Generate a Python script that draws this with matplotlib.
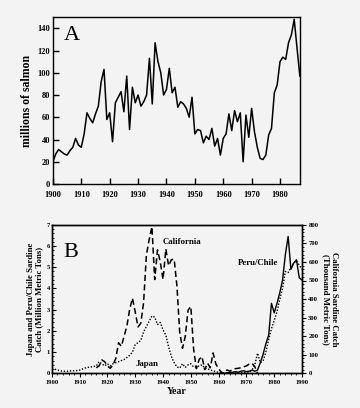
import numpy as np
import matplotlib
matplotlib.use("Agg")
import matplotlib.pyplot as plt
from matplotlib.ticker import MultipleLocator

# Panel A: salmon catch (millions of fish), 1900-1987
salmon_years = list(range(1900, 1988))
salmon = [20, 27, 31, 29, 27, 26, 30, 33, 41, 35,
          33, 45, 64, 59, 55, 63, 70, 92, 103, 58,
          64, 38, 73, 78, 83, 65, 97, 49, 87, 73,
          80, 70, 74, 80, 113, 72, 127, 110, 100, 80,
          85, 104, 82, 87, 69, 74, 72, 68, 60, 78,
          45, 49, 48, 37, 43, 40, 50, 34, 41, 26,
          41, 45, 63, 48, 66, 56, 64, 20, 62, 42,
          68, 47, 33, 23, 22, 26, 44, 50, 82, 89,
          110, 114, 112, 127, 134, 148, 122, 97]

# Panel B: sardine catches
japan_years = list(range(1900, 1991))
japan = [0.20, 0.20, 0.15, 0.12, 0.10, 0.10, 0.10, 0.12, 0.12, 0.13,
         0.15, 0.20, 0.25, 0.28, 0.30, 0.32, 0.35, 0.55, 0.45, 0.35,
         0.45, 0.35, 0.45, 0.50, 0.55, 0.60, 0.65, 0.75, 0.85, 1.00,
         1.35, 1.45, 1.55, 1.95, 2.20, 2.45, 2.70, 2.65, 2.30, 2.40,
         2.05, 1.80, 1.25, 0.80, 0.50, 0.30, 0.25, 0.45, 0.28, 0.40,
         0.45, 0.30, 0.30, 0.35, 0.40, 0.25, 0.22, 0.15, 0.12, 0.08,
         0.04, 0.02, 0.02, 0.02, 0.02, 0.02, 0.02, 0.03, 0.03, 0.04,
         0.05, 0.06, 0.15, 0.40, 0.95, 0.50, 0.60, 1.00, 1.60, 2.10,
         2.50, 2.90, 3.50, 4.00, 4.80, 4.75, 5.00, 5.20, 5.30, 5.10,
         4.90]

peru_years = list(range(1962, 1991))
peru = [0.00, 0.02, 0.05, 0.05, 0.08, 0.05, 0.10, 0.12, 0.08, 0.10,
        0.15, 0.10, 0.15, 0.50, 0.90, 1.40, 1.80, 3.30, 2.85, 3.30,
        3.80, 4.40, 5.60, 6.45, 4.90, 5.20, 5.35, 4.50, 4.40]

calif_years = list(range(1916, 1975))
calif = [30, 40, 72, 63, 40, 27, 45, 80, 165, 145,
         200, 255, 345, 405, 330, 250, 270, 380, 635, 720,
         790, 505, 665, 600, 505, 670, 580, 612, 615, 470,
         220, 135, 200, 340, 360, 130, 25, 75, 90, 20,
         55, 30, 110, 50, 25, 5, 2, 18, 12, 20,
         25, 27, 30, 35, 40, 50, 54, 36, 0]

plt.rcParams['font.family'] = ['Liberation Serif', 'DejaVu Serif']
plt.rcParams['font.weight'] = 'bold'
bg = '#f3f3f3'

fig = plt.figure(figsize=(3.6, 4.08), dpi=100, facecolor=bg)

# ---- panel A ----
axA = fig.add_axes([0.147, 0.549, 0.686, 0.409], facecolor=bg)
axA.plot(salmon_years, salmon, color='black', lw=1.1)
axA.set_xlim(1900, 1987)
axA.set_ylim(0, 150)
axA.set_xticks(range(1900, 1981, 10))
axA.set_yticks(range(0, 141, 20))
axA.tick_params(direction='in', length=4, width=1, labelsize=6, pad=2)
axA.tick_params(axis='x', pad=5)
for lab in axA.get_xticklabels() + axA.get_yticklabels():
    lab.set_fontweight('bold')
axA.set_ylabel('millions of salmon', fontsize=8.5, fontweight='bold', labelpad=3)
axA.text(0.045, 0.86, 'A', transform=axA.transAxes, fontsize=16, fontweight='normal')
for s in axA.spines.values():
    s.set_linewidth(1)

# ---- panel B ----
axB = fig.add_axes([0.144, 0.085, 0.695, 0.364], facecolor=bg)
axB.plot(japan_years, japan, color='black', lw=1.0, ls=(0, (1, 1.2)))
axB.plot(peru_years, peru, color='black', lw=1.0)
axB.set_xlim(1900, 1990)
axB.set_ylim(0, 7)
axB.set_xticks(range(1900, 1991, 10))
axB.xaxis.set_minor_locator(MultipleLocator(2))
axB.yaxis.set_minor_locator(MultipleLocator(0.2))
axB.tick_params(axis='x', which='major', direction='out', length=3, width=0.8, labelsize=4.8, pad=1.5)
axB.tick_params(axis='x', which='minor', direction='out', length=1.5, width=0.6)
axB.tick_params(axis='y', which='major', direction='in', length=3, width=0.8, labelsize=4.8, pad=1.5)
axB.tick_params(axis='y', which='minor', direction='in', length=1.5, width=0.6)
for lab in axB.get_xticklabels() + axB.get_yticklabels():
    lab.set_fontweight('bold')
axB.set_xlabel('Year', fontsize=7, fontweight='bold', labelpad=2)
axB.set_ylabel('Japan and Peru/Chile Sardine\nCatch (Million Metric Tons)',
               fontsize=6.3, fontweight='bold', labelpad=2, linespacing=1.05)
axB.text(0.045, 0.78, 'B', transform=axB.transAxes, fontsize=16, fontweight='normal')
axB.text(1930, 0.35, 'Japan', fontsize=6.3, fontweight='bold')

axR = axB.twinx()
axR.plot(calif_years, calif, color='black', lw=1.1, ls=(0, (4, 2.2)))
axR.set_ylim(0, 800)
axR.set_yticks(range(0, 801, 100))
axR.yaxis.set_minor_locator(MultipleLocator(20))
axR.tick_params(axis='y', which='major', direction='out', length=3, width=0.8, labelsize=4.8, pad=1.5)
axR.tick_params(axis='y', which='minor', direction='out', length=1.5, width=0.6)
for lab in axR.get_yticklabels():
    lab.set_fontweight('bold')
axR.set_ylabel('California Sardine Catch\n(Thousand Metric Tons)', rotation=-90,
               fontsize=6.3, fontweight='bold', labelpad=14, linespacing=1.05)
axR.text(1940, 695, 'California', fontsize=6.3, fontweight='bold')
axR.text(1967, 585, 'Peru/Chile', fontsize=6.3, fontweight='bold')
for ax in (axB, axR):
    for s in ax.spines.values():
        s.set_linewidth(1)

fig.savefig('out.png', dpi=100, facecolor=bg)
